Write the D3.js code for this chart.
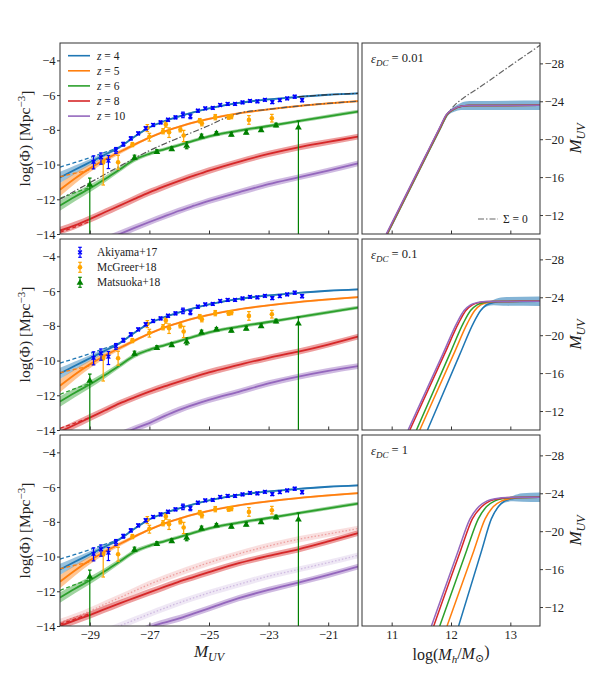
<!DOCTYPE html>
<html><head><meta charset="utf-8">
<script src="https://cdn.jsdelivr.net/npm/d3@7"></script>
<style>
body{margin:0;background:#fff}
svg{font-family:"Liberation Serif","DejaVu Serif",serif}
</style>
</head><body>
<svg id="c" width="600" height="685"></svg>
<script>
// ---------------- DATA ----------------
const MUV = [-30,-29.5,-29,-28.5,-28,-27.5,-27,-26.5,-26,-25.5,-25,-24,-23,-22,-21,-20];
const phiZ4 = [-10.74,-10.3,-9.87,-9.44,-9.0,-8.4,-7.86,-7.5,-7.22,-6.98,-6.77,-6.45,-6.25,-6.1,-5.98,-5.9];
const phiZ5 = [-11.45,-10.8,-10.22,-9.72,-9.28,-8.85,-8.45,-8.1,-7.82,-7.57,-7.37,-7.05,-6.82,-6.63,-6.48,-6.35];
const phiZ6 = [-12.36,-11.85,-11.38,-10.85,-10.28,-9.72,-9.38,-9.12,-8.88,-8.62,-8.38,-8.05,-7.78,-7.5,-7.22,-6.95];
const bandZ4 = [0.32,0.24,0.17,0.12,0.08,0.06,0.05,0.05,0.05,0.05,0.05,0.05,0.05,0.05,0.05,0.05];
const bandZ5 = [0.38,0.3,0.22,0.16,0.12,0.09,0.07,0.06,0.06,0.06,0.06,0.06,0.06,0.06,0.06,0.06];
const bandZ6 = [0.3,0.26,0.22,0.18,0.15,0.13,0.11,0.1,0.1,0.1,0.1,0.1,0.1,0.1,0.1,0.1];
const bandZ8 = [0.22,0.22,0.21,0.21,0.2,0.2,0.2,0.2,0.19,0.19,0.19,0.18,0.18,0.18,0.17,0.17];
const bandZ10 = [0.2,0.2,0.2,0.2,0.2,0.19,0.19,0.19,0.19,0.18,0.18,0.18,0.18,0.17,0.17,0.17];
// z=8 and z=10 for eps_DC = 0.01, 0.1, 1
const phiZ8_e001 = [-13.8,-13.5,-13.14,-12.75,-12.37,-11.98,-11.6,-11.26,-10.94,-10.64,-10.35,-9.84,-9.39,-9.01,-8.7,-8.39];
const phiZ10_e001 = [-15.5,-15.1,-14.7,-14.35,-14.0,-13.65,-13.31,-12.98,-12.66,-12.37,-12.09,-11.6,-11.13,-10.74,-10.35,-9.93];
const phiZ8_e01 = [-14.1,-13.7,-13.29,-12.88,-12.47,-12.12,-11.79,-11.49,-11.21,-10.94,-10.68,-10.25,-9.84,-9.49,-9.08,-8.62];
const phiZ10_e01 = [-16.2,-15.7,-15.2,-14.75,-14.3,-13.93,-13.6,-13.2,-12.84,-12.54,-12.27,-11.8,-11.32,-10.93,-10.6,-10.32];
const phiZ8_e1 = [-14.0,-13.68,-13.37,-13.03,-12.7,-12.38,-12.06,-11.75,-11.44,-11.17,-10.9,-10.38,-9.96,-9.58,-9.13,-8.65];
const phiZ10_e1 = [-16.9,-16.4,-15.9,-15.4,-14.95,-14.5,-14.08,-13.8,-13.56,-13.27,-12.98,-12.4,-11.92,-11.5,-11.06,-10.58];
// dashed bright-end extensions
const dashM = [-30,-29.5,-29,-28.5,-28];
const dashZ4 = [-10.15,-9.88,-9.6,-9.3,-9.02];
const dashZ5M = [-30,-29.5,-29,-28.8];
const dashZ5 = [-10.7,-10.5,-10.3,-10.15];
const dashZ6M = [-30,-29.5,-29];
const dashZ6 = [-11.95,-11.62,-11.33];
const dashZ8M = [-30,-29.5,-29];
const dashZ8 = [-13.9,-13.6,-13.28];
// Sigma = 0 (eps = 0.01 panel)
const sig0M = [-30,-29,-28,-27,-26,-25,-24.5,-24,-23,-22,-21,-20];
const sig0Phi = [-12.0,-11.05,-10.1,-9.2,-8.45,-7.75,-7.35,-7.05,-6.82,-6.63,-6.48,-6.35];
const sig0Z4M = [-22,-21,-20];
const sig0Z4Phi = [-6.1,-5.98,-5.9];
// observations
const akiM = [-28.875,-28.625,-28.375,-28.125,-27.875,-27.625,-27.375,-27.125,-26.875,-26.625,-26.375,-26.125,-25.875,-25.625,-25.375,-25.125,-24.875,-24.625,-24.375,-24.125,-23.875,-23.625,-23.375,-23.125,-22.875,-22.625,-22.375,-22.125,-21.875];
const akiPhi = [-9.85,-9.58,-9.78,-9.17,-8.82,-8.49,-8.2,-7.91,-7.72,-7.57,-7.42,-7.28,-7.13,-7.22,-6.9,-6.76,-6.74,-6.57,-6.51,-6.51,-6.42,-6.33,-6.36,-6.27,-6.4,-6.29,-6.19,-6.09,-6.29];
const akiUp = [0.35,0.25,0.3,0.15,0.1,0.09,0.08,0.08,0.08,0.08,0.08,0.08,0.15,0.12,0.08,0.07,0.07,0.07,0.07,0.07,0.07,0.07,0.07,0.07,0.08,0.07,0.07,0.08,0.09];
const akiLo = [0.4,0.4,0.45,0.18,0.12,0.1,0.09,0.09,0.09,0.09,0.09,0.09,0.17,0.14,0.09,0.08,0.08,0.08,0.08,0.08,0.08,0.08,0.08,0.08,0.09,0.08,0.08,0.09,0.1];
const mcgM = [-28.55,-28.05,-27.57,-27.07,-27.0,-26.54,-26.45,-26.34,-25.96,-25.85,-25.31,-25.24,-24.79,-24.34,-24.25,-23.66,-22.89];
const mcgPhi = [-9.88,-9.87,-8.85,-7.9,-8.4,-8.08,-7.7,-8.14,-8.0,-8.33,-7.47,-7.62,-7.27,-7.27,-7.24,-7.43,-7.33];
const mcgUp = [0.2,0.4,0.12,0.2,0.2,0.15,0.15,0.25,0.12,0.3,0.12,0.15,0.15,0.12,0.12,0.25,0.22];
const mcgLo = [1.3,0.4,0.12,0.2,0.25,0.15,0.15,0.3,0.12,0.35,0.12,0.15,0.15,0.12,0.12,0.25,0.22];
const matM = [-29.0,-27.5,-26.75,-26.25,-25.75,-25.25,-24.75,-24.25,-23.75,-23.25,-22.75,-22.0];
const matPhi = [-11.13,-9.58,-9.25,-9.08,-8.89,-8.35,-8.18,-8.25,-8.13,-7.99,-7.72,-7.84];
const matUp = [0.35,0.12,0.1,0.1,0.2,0.1,0.08,0.1,0.1,0.1,0.1,0.35];
const matLo = [3.5,0.12,0.1,0.1,0.2,0.1,0.08,0.1,0.1,0.1,0.1,7.0];
// right panels: M_UV(log Mh), shared M_UV levels, logMh per z (rows z=4,5,6,8,10)
const muvLevels = [-10,-18,-21.3,-22.6,-23.2,-23.45,-23.55,-23.58];
const logMh_e001 = [
  [10.93,11.57,11.835,11.94,12.065,12.165,12.31,13.5],
  [10.925,11.565,11.83,11.935,12.06,12.16,12.305,13.5],
  [10.92,11.56,11.825,11.93,12.055,12.155,12.3,13.5],
  [10.915,11.555,11.82,11.925,12.05,12.15,12.3,13.5],
  [10.91,11.55,11.815,11.92,12.045,12.145,12.295,13.5]];
const logMh_e01 = [
  [11.603,12.15,12.38,12.5,12.6,12.72,12.88,13.5],
  [11.474,12.045,12.28,12.4,12.5,12.62,12.76,13.5],
  [11.418,11.978,12.21,12.33,12.44,12.56,12.7,13.5],
  [11.306,11.89,12.13,12.25,12.36,12.48,12.63,13.5],
  [11.278,11.862,12.10,12.22,12.33,12.45,12.6,13.5]];
const logMh_e1 = [
  [12.128,12.518,12.68,12.8,12.91,13.05,13.2,13.5],
  [11.933,12.388,12.575,12.715,12.855,13.0,13.15,13.5],
  [11.81,12.265,12.46,12.6,12.74,12.88,13.05,13.5],
  [11.709,12.164,12.36,12.52,12.66,12.83,13.0,13.5],
  [11.67,12.125,12.32,12.47,12.61,12.77,12.95,13.5]];
const bandR_e001 = [0.1,0.1,0.12,0.18,0.28,0.38,0.48,0.5];
const bandR_e01 = [0,0,0.02,0.08,0.18,0.3,0.45,0.5];
const bandR_e1 = [0,0,0.02,0.08,0.18,0.3,0.45,0.5];
const sig0Mh = [11.82,11.93,12.0,12.07,12.2,12.5,13.0,13.5];
const sig0Muv = [-21.3,-22.6,-23.15,-23.65,-24.3,-25.55,-27.75,-29.9];
// labels / ticks
const zLabels = ['4','5','6','8','10'];
const dataLabels = ['Akiyama+17','McGreer+18','Matsuoka+18'];
const epsLabels = ['0.01','0.1','1'];
const phiTicks = [-4,-6,-8,-10,-12,-14];
const muvTicks = [-29,-27,-25,-23,-21];
const mhTicks = [11,12,13];
const muvRTicks = [-28,-24,-20,-16,-12];

// ---------------- LAYOUT ----------------
const COLORS = ['#1f77b4','#ff7f0e','#2ca02c','#d62728','#9467bd'];
const svg = d3.select('#c');
const LX=[60,358], RX=[362,540], TOPS=[43,239,435], PH=191;
const xL = d3.scaleLinear().domain([-30,-20]).range(LX);
const xR = d3.scaleLinear().domain([10.5,13.5]).range(RX);
const defs = svg.append('defs');
const tickFmt = d3.format('d');
const FONT = '"Liberation Serif","DejaVu Serif",serif';

function zip(xs, ys, hs){ return xs.map((x,i)=>[x, ys[i], hs ? hs[i] : 0]); }

function drawCurve(g, x, y, pts, color, opt){
  opt = opt || {};
  if (opt.band){
    g.append('path').datum(pts)
      .attr('d', d3.area().curve(d3.curveMonotoneX).x(d=>x(d[0])).y0(d=>y(d[1]-d[2])).y1(d=>y(d[1]+d[2])))
      .attr('fill', color).attr('fill-opacity', opt.bandOp || 0.45).attr('stroke','none');
  }
  if (opt.line !== false){
    g.append('path').datum(pts)
      .attr('d', d3.line().curve(d3.curveMonotoneX).x(d=>x(d[0])).y(d=>y(d[1])))
      .attr('fill','none').attr('stroke', color).attr('stroke-width', opt.w || 1.8)
      .attr('stroke-opacity', opt.op || 1)
      .attr('stroke-dasharray', opt.dash || null);
  }
}

function drawErr(g, x, y, Ms, ph, up, lo, color, marker){
  const grp = g.append('g');
  const sel = grp.selectAll('g.pt').data(Ms.map((m,i)=>({m, p:ph[i], u:up[i], l:lo[i]}))).join('g').attr('class','pt');
  sel.append('line').attr('x1',d=>x(d.m)).attr('x2',d=>x(d.m))
    .attr('y1',d=>y(d.p+d.u)).attr('y2',d=>y(d.p-d.l)).attr('stroke',color).attr('stroke-width',1.2);
  [d=>d.p+d.u, d=>d.p-d.l].forEach(f=>{
    sel.append('line').attr('x1',d=>x(d.m)-1.8).attr('x2',d=>x(d.m)+1.8)
      .attr('y1',d=>y(f(d))).attr('y2',d=>y(f(d))).attr('stroke',color).attr('stroke-width',1.2);
  });
  drawMarker(sel, d=>x(d.m), d=>y(d.p), color, marker);
}

function drawMarker(sel, fx, fy, color, marker){
  if (marker==='x'){
    sel.append('path').attr('d', d=>{const cx=fx(d), cy=fy(d), s=1.9;
      return `M${cx-s},${cy-s}L${cx+s},${cy+s}M${cx-s},${cy+s}L${cx+s},${cy-s}`;})
      .attr('stroke',color).attr('stroke-width',1.4).attr('fill','none');
  } else if (marker==='o'){
    sel.append('circle').attr('cx',fx).attr('cy',fy).attr('r',2.3).attr('fill',color);
  } else {
    sel.append('path').attr('d', d3.symbol().type(d3.symbolTriangle).size(20))
      .attr('transform', d=>`translate(${fx(d)},${fy(d)+0.6})`).attr('fill',color);
  }
}

function styleAxis(a){
  a.select('.domain').remove();
  a.selectAll('.tick line').attr('stroke','#333');
  a.selectAll('text').attr('font-size',12.5).attr('fill','#222').attr('font-family',FONT);
}

function lowZ(i){
  return [[phiZ8_e001, phiZ10_e001],[phiZ8_e01, phiZ10_e01],[phiZ8_e1, phiZ10_e1]][i];
}

function drawLeft(i){
  const top = TOPS[i];
  const y = d3.scaleLinear().domain([-14,-3]).range([top+PH, top]);
  defs.append('clipPath').attr('id','cl'+i).append('rect')
    .attr('x',LX[0]).attr('y',top).attr('width',LX[1]-LX[0]).attr('height',PH);
  const g = svg.append('g').attr('clip-path',`url(#cl${i})`);
  if (i===2){
    drawCurve(g, xL, y, zip(MUV, phiZ8_e001, bandZ8), COLORS[3], {band:true, bandOp:0.15, op:0.35, w:1.3, dash:'1.5,2'});
    drawCurve(g, xL, y, zip(MUV, phiZ10_e001, bandZ10), COLORS[4], {band:true, bandOp:0.15, op:0.35, w:1.3, dash:'1.5,2'});
  }
  const [p8, p10] = lowZ(i);
  const series = [[phiZ4,bandZ4],[phiZ5,bandZ5],[phiZ6,bandZ6],[p8,bandZ8],[p10,bandZ10]];
  series.forEach((s,k)=> drawCurve(g, xL, y, zip(MUV, s[0], s[1]), COLORS[k], {band:true}));
  drawCurve(g, xL, y, zip(dashM, dashZ4), COLORS[0], {w:1.3, dash:'4,2.5'});
  drawCurve(g, xL, y, zip(dashZ5M, dashZ5), COLORS[1], {w:1.3, dash:'4,2.5'});
  drawCurve(g, xL, y, zip(dashZ6M, dashZ6), COLORS[2], {w:1.3, dash:'4,2.5'});
  drawCurve(g, xL, y, zip(dashZ8M, dashZ8), COLORS[3], {w:1.3, dash:'4,2.5'});
  if (i===0){
    drawCurve(g, xL, y, zip(sig0M, sig0Phi), '#555', {w:1.2, dash:'6,2,1.5,2'});
    drawCurve(g, xL, y, zip(sig0Z4M, sig0Z4Phi), '#333', {w:1.1, dash:'6,2,1.5,2'});
  }
  drawErr(g, xL, y, matM, matPhi, matUp, matLo, 'green', 'tri');
  drawErr(g, xL, y, mcgM, mcgPhi, mcgUp, mcgLo, 'orange', 'o');
  drawErr(g, xL, y, akiM, akiPhi, akiUp, akiLo, 'blue', 'x');
  svg.append('rect').attr('x',LX[0]).attr('y',top).attr('width',LX[1]-LX[0]).attr('height',PH)
    .attr('fill','none').attr('stroke','#333').attr('stroke-width',1);
  styleAxis(svg.append('g').attr('transform',`translate(${LX[0]},0)`)
    .call(d3.axisLeft(y).tickValues(phiTicks).tickSize(3).tickPadding(1.5).tickFormat(tickFmt)));
  styleAxis(svg.append('g').attr('transform',`translate(0,${top+PH})`)
    .call(d3.axisBottom(xL).tickValues(muvTicks).tickSize(-3.5).tickPadding(4.5)
      .tickFormat(i===2 ? tickFmt : '')));
  const yl = svg.append('text').attr('transform',`translate(30,${top+PH/2}) rotate(-90)`)
    .attr('text-anchor','middle').attr('font-size',15.5).attr('fill','#222');
  yl.append('tspan').text('log(Φ) [Mpc');
  yl.append('tspan').attr('dy','-0.45em').attr('font-size',11).text('−3');
  yl.append('tspan').attr('dy','0.45em').text(']');
  if (i===0){
    zLabels.forEach((z,k)=>{
      const ly = 55.7 + k*15.1;
      svg.append('line').attr('x1',68).attr('x2',90).attr('y1',ly).attr('y2',ly)
        .attr('stroke',COLORS[k]).attr('stroke-width',1.6);
      const t = svg.append('text').attr('x',97).attr('y',ly+3.8).attr('font-size',11.5).attr('fill','#222');
      t.append('tspan').attr('font-style','italic').text('z');
      t.append('tspan').text(' = ' + z);
    });
  }
  if (i===1){
    const cols = ['blue','orange','green'], mk = ['x','o','tri'];
    dataLabels.forEach((lab,k)=>{
      const ly = 252.3 + k*15;
      const lg = svg.append('g').datum({k});
      lg.append('line').attr('x1',80).attr('x2',80).attr('y1',ly-5).attr('y2',ly+5)
        .attr('stroke',cols[k]).attr('stroke-width',1.2);
      [ly-5, ly+5].forEach(yy=> lg.append('line').attr('x1',78.2).attr('x2',81.8).attr('y1',yy).attr('y2',yy)
        .attr('stroke',cols[k]).attr('stroke-width',1.2));
      drawMarker(lg, ()=>80, ()=>ly, cols[k], mk[k]);
      svg.append('text').attr('x',97).attr('y',ly+3.8).attr('font-size',11.5).attr('fill','#222').text(lab);
    });
  }
  if (i===2){
    const t = svg.append('text').attr('x',(LX[0]+LX[1])/2).attr('y',657)
      .attr('text-anchor','middle').attr('font-size',17).attr('fill','#222');
    t.append('tspan').attr('font-style','italic').text('M');
    t.append('tspan').attr('font-style','italic').attr('font-size',12).attr('dy','0.3em').text('UV');
  }
}

function drawRight(i){
  const top = TOPS[i];
  const y = d3.scaleLinear().domain([-10,-30.15]).range([top+PH, top]);
  defs.append('clipPath').attr('id','cr'+i).append('rect')
    .attr('x',RX[0]).attr('y',top).attr('width',RX[1]-RX[0]).attr('height',PH);
  const g = svg.append('g').attr('clip-path',`url(#cr${i})`);
  const table = [logMh_e001, logMh_e01, logMh_e1][i];
  const band = [bandR_e001, bandR_e01, bandR_e1][i];
  if (i===0){
    drawCurve(g, xR, y, zip(sig0Mh, sig0Muv), '#666', {w:1.2, dash:'6,2,1.5,2'});
  }
  drawCurve(g, xR, y, table[0].map((m,j)=>[m, muvLevels[j], band[j]]), COLORS[0], {band:true, bandOp:0.55, line:false});
  table.forEach((row,k)=> drawCurve(g, xR, y, zip(row, muvLevels), COLORS[k], {w:1.5}));
  svg.append('rect').attr('x',RX[0]).attr('y',top).attr('width',RX[1]-RX[0]).attr('height',PH)
    .attr('fill','none').attr('stroke','#333').attr('stroke-width',1);
  styleAxis(svg.append('g').attr('transform',`translate(${RX[1]},0)`)
    .call(d3.axisRight(y).tickValues(muvRTicks).tickSize(3).tickPadding(1.5).tickFormat(tickFmt)));
  styleAxis(svg.append('g').attr('transform',`translate(0,${top+PH})`)
    .call(d3.axisBottom(xR).tickValues(mhTicks).tickSize(-3.5).tickPadding(4.5)
      .tickFormat(i===2 ? tickFmt : '')));
  const yl = svg.append('text').attr('transform',`translate(581,${top+PH/2}) rotate(-90)`)
    .attr('text-anchor','middle').attr('font-size',17).attr('fill','#222');
  yl.append('tspan').attr('font-style','italic').text('M');
  yl.append('tspan').attr('font-style','italic').attr('font-size',12).attr('dy','0.3em').text('UV');
  const et = svg.append('text').attr('x',371).attr('y',top+20).attr('font-size',12.5).attr('fill','#222');
  et.append('tspan').attr('font-style','italic').text('ε');
  et.append('tspan').attr('font-style','italic').attr('font-size',9).attr('dy','0.3em').text('DC');
  et.append('tspan').attr('dy','-0.3em').text(' = ' + epsLabels[i]);
  if (i===0){
    svg.append('line').attr('x1',478).attr('x2',498).attr('y1',219).attr('y2',219)
      .attr('stroke','#666').attr('stroke-width',1.2).attr('stroke-dasharray','6,2,1.5,2');
    svg.append('text').attr('x',503).attr('y',223).attr('font-size',11.5).attr('fill','#222').text('Σ = 0');
  }
  if (i===2){
    const t = svg.append('text').attr('x',(RX[0]+RX[1])/2).attr('y',660)
      .attr('text-anchor','middle').attr('font-size',16).attr('fill','#222');
    t.append('tspan').text('log(');
    t.append('tspan').attr('font-style','italic').text('M');
    t.append('tspan').attr('font-style','italic').attr('font-size',11).attr('dy','0.3em').text('h');
    t.append('tspan').attr('dy','-0.3em').text('/');
    t.append('tspan').attr('font-style','italic').text('M');
    t.append('tspan').attr('font-size',11).attr('dy','0.3em').text('⊙');
    t.append('tspan').attr('dy','-0.3em').text(')');
  }
}

[0,1,2].forEach(i=>{ drawLeft(i); drawRight(i); });
</script>
</body></html>
